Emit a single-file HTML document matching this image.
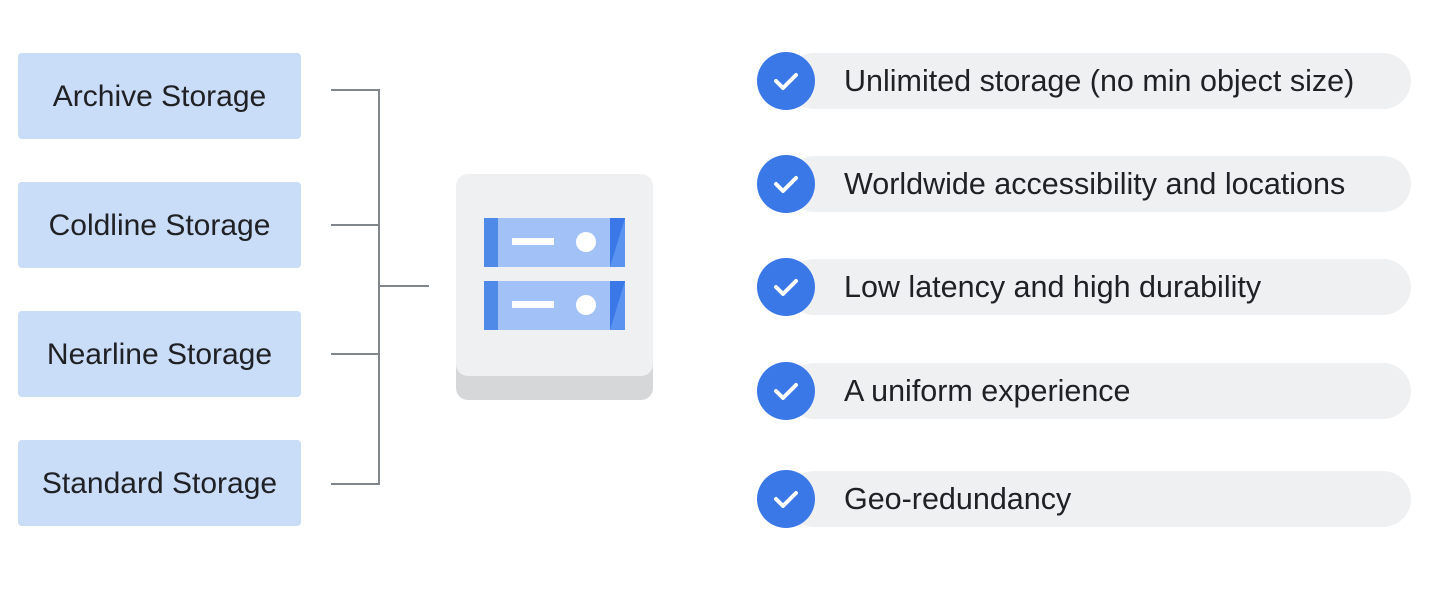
<!DOCTYPE html>
<html><head><style>
body{margin:0;width:1436px;height:608px;background:#fff;position:relative;font-family:"Liberation Sans",sans-serif;overflow:hidden}
.b{position:absolute;left:18px;width:283px;height:86px;background:#c9dcf8;border-radius:4px;font-size:30px;color:#202124;display:flex;align-items:center;justify-content:center;padding-top:2px;box-sizing:border-box}
.l{position:absolute;background:#80868b}
.p{position:absolute;left:786px;width:625px;height:56px;background:#eff0f2;border-radius:28px;font-size:30.5px;color:#202124;display:flex;align-items:center;padding-left:58px;box-sizing:border-box;white-space:nowrap}
</style></head><body>
<div class="b" style="top:53px">Archive Storage</div>
<div class="b" style="top:182px">Coldline Storage</div>
<div class="b" style="top:311px">Nearline Storage</div>
<div class="b" style="top:440px">Standard Storage</div>
<div class="l" style="left:331px;top:89px;width:49px;height:2px"></div>
<div class="l" style="left:331px;top:224px;width:49px;height:2px"></div>
<div class="l" style="left:331px;top:353px;width:49px;height:2px"></div>
<div class="l" style="left:331px;top:483px;width:49px;height:2px"></div>
<div class="l" style="left:378px;top:89px;width:2px;height:396px"></div>
<div class="l" style="left:378px;top:285px;width:51px;height:2px"></div>
<svg style="position:absolute;left:456px;top:174px" width="197" height="226">
<rect x="0" y="20" width="197" height="206" rx="12" fill="#d6d7d9"/>
<rect x="0" y="0" width="197" height="202" rx="12" fill="#eff0f2"/>
<g>
<rect x="28" y="44" width="141" height="49" fill="#a2c1f7"/>
<rect x="28" y="44" width="14" height="49" fill="#4f8ae8"/>
<polygon points="154,44 169,44 169,93 154,93" fill="#5b93f0"/>
<polygon points="154,44 169,44 154,93" fill="#3b78e7"/>
<rect x="56" y="64" width="42" height="7" fill="#fff"/>
<circle cx="130" cy="68" r="10" fill="#fff"/>
</g>
<g transform="translate(0,63)">
<rect x="28" y="44" width="141" height="49" fill="#a2c1f7"/>
<rect x="28" y="44" width="14" height="49" fill="#4f8ae8"/>
<polygon points="154,44 169,44 169,93 154,93" fill="#5b93f0"/>
<polygon points="154,44 169,44 154,93" fill="#3b78e7"/>
<rect x="56" y="64" width="42" height="7" fill="#fff"/>
<circle cx="130" cy="68" r="10" fill="#fff"/>
</g>
</svg>
<div class="p" style="top:53px">Unlimited storage (no min object size)</div>
<div class="p" style="top:156px">Worldwide accessibility and locations</div>
<div class="p" style="top:259px">Low latency and high durability</div>
<div class="p" style="top:363px">A uniform experience</div>
<div class="p" style="top:471px">Geo-redundancy</div>
<svg style="position:absolute;left:0;top:0" width="1436" height="608">
<g fill="#3b78e7">
<circle cx="786" cy="81" r="29"/><circle cx="786" cy="184" r="29"/><circle cx="786" cy="287" r="29"/><circle cx="786" cy="391" r="29"/><circle cx="786" cy="499" r="29"/></g>
<g fill="none" stroke="#fff" stroke-width="4" stroke-linecap="round" stroke-linejoin="round">
<path d="M776 81l7 7 13-13"/><path d="M776 184l7 7 13-13"/><path d="M776 287l7 7 13-13"/><path d="M776 391l7 7 13-13"/><path d="M776 499l7 7 13-13"/></g>
</svg>
</body></html>
